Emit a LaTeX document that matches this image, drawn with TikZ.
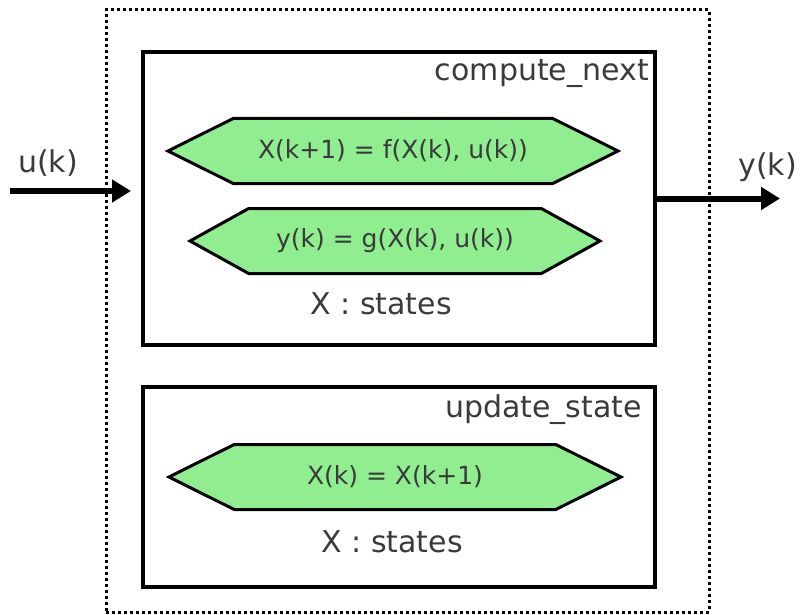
\documentclass[tikz,border=0pt]{standalone}
\usepackage{fontspec}
\setmainfont{DejaVu Sans}
\usetikzlibrary{arrows.meta,positioning,shapes.symbols}
\definecolor{eqgreen}{HTML}{90EE90}
\definecolor{txtgray}{HTML}{3A3A3A}
\tikzset{
  blockbox/.style={rectangle, draw=black, line width=4pt, minimum width=512pt},
  eqbox/.style={signal, signal to=west and east, draw=black, line width=3pt, fill=eqgreen,
                minimum height=65pt, inner sep=0pt, font=\fontsize{25}{28}\selectfont, text=txtgray},
  lbl/.style={font=\fontsize{30}{34}\selectfont, text=txtgray, inner sep=0pt},
  sig/.style={-{Triangle[length=19pt, width=22pt]}, line width=6pt},
}

\begin{document}
\begin{tikzpicture}[x=1pt, y=-1pt]
    \useasboundingbox (0,0) rectangle (800,615);
    \node[rectangle, draw, line width=3pt, dash pattern=on 3pt off 3pt,
          minimum width=603pt, minimum height=602pt] (sys) at (407.5,311) {};
    \node[blockbox, minimum height=293pt] (comp) at (399,198.5) {};
    \node[blockbox, minimum height=200pt] (upd) at (399,487) {};
    \node[lbl, below left=9pt and 8pt of comp.north east, anchor=north east] (complbl) {compute\_next};
    \node[lbl, below left=10pt and 15pt of upd.north east, anchor=north east] (updlbl) {update\_state};
    \node[eqbox, signal pointer angle=53, minimum width=450pt] (eqf) at (393,151) {X(k+1) = f(X(k), u(k))};
    \node[eqbox, signal pointer angle=58, minimum width=410pt] (eqg) at (395,241) {y(k) = g(X(k), u(k))};
    \node[lbl, below=17pt of eqg, xshift=-14pt] (st1) {X : states};
    \node[eqbox, signal pointer angle=53, minimum width=452pt] (equ) at (395,477) {X(k) = X(k+1)};
    \node[lbl, below=19pt of equ, xshift=-3pt] (st2) {X : states};
    \coordinate (uin) at (10,191);
    \coordinate (yout) at (780,198.5);
    \draw[sig, shorten >=10pt] (uin) -- node[lbl, above=12pt, pos=0.29] (ulbl) {u(k)} (uin -| comp.west);
    \draw[sig] (comp.east) -- node[lbl, above=14pt, pos=0.9] (ylbl) {y(k)} (yout);
\end{tikzpicture}
\end{document}
